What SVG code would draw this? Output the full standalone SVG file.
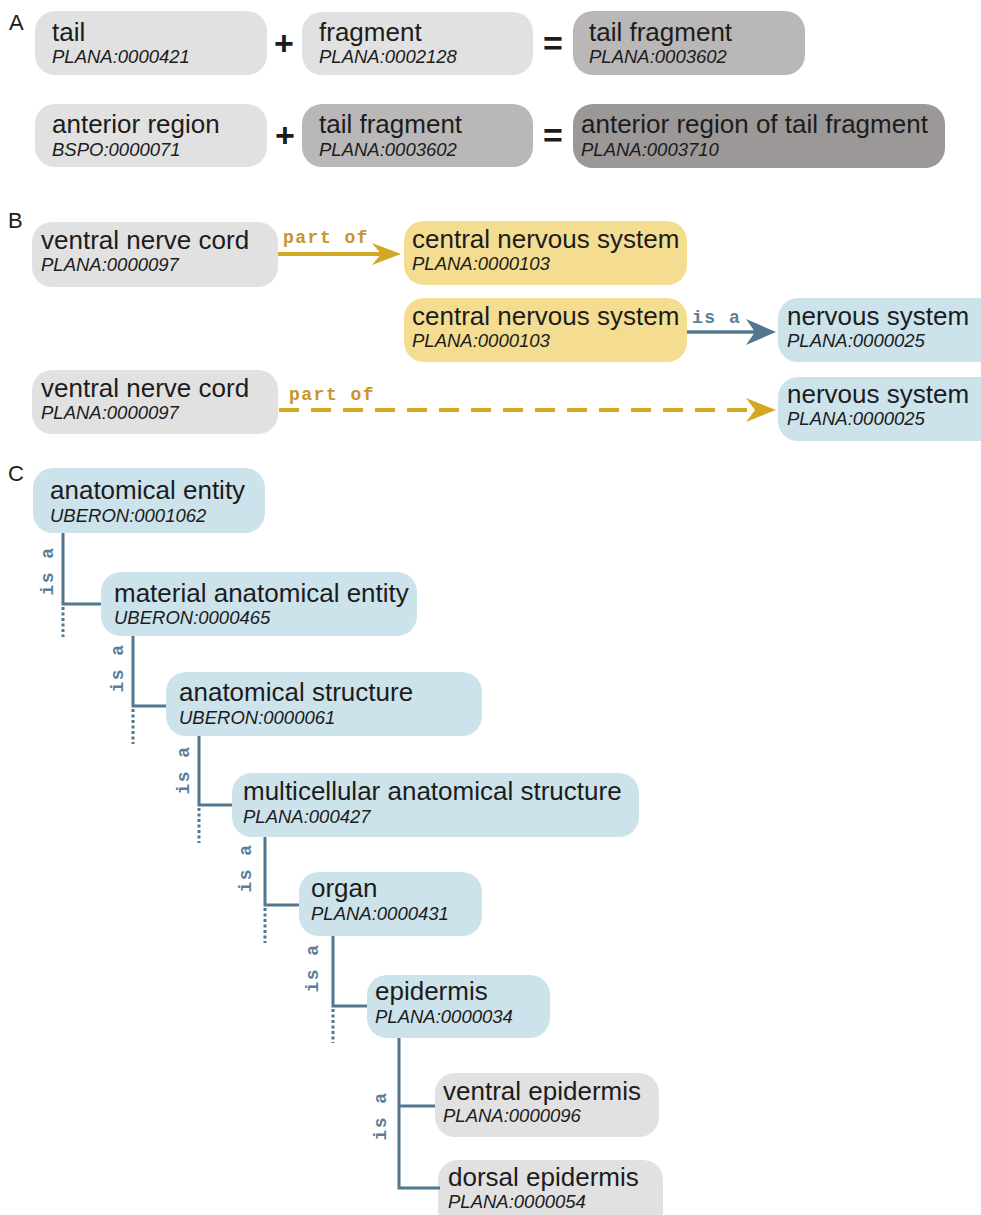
<svg xmlns="http://www.w3.org/2000/svg" width="981" height="1215" viewBox="0 0 981 1215">
<style>
.bg{fill:#ffffff}
.g1{fill:#e1e1e1}
.g2{fill:#b9b7b7}
.g3{fill:#9c9898}
.ye{fill:#f4dd91}
.bl{fill:#cde3eb}
.t{font-family:"Liberation Sans",Arial,sans-serif;font-size:26px;fill:#1c1c1c}
.id{font-family:"Liberation Sans",Arial,sans-serif;font-size:18.5px;font-style:italic;fill:#1c1c1c}
.pl{font-family:"Liberation Sans",Arial,sans-serif;font-size:22px;fill:#1c1c1c}
.op{font-family:"Liberation Sans",Arial,sans-serif;font-size:34px;fill:#1c1c1c}
.lp{font-family:"Liberation Mono","Courier New",monospace;font-size:18px;font-weight:bold;fill:#c8952c;letter-spacing:1.5px}
.li{font-family:"Liberation Mono","Courier New",monospace;font-size:18px;font-weight:bold;fill:#5b7e98;letter-spacing:1.5px}
.gold{stroke:#d3a923;stroke-width:4;fill:none}
.gdash{stroke:#d3a923;stroke-width:4;fill:none;stroke-dasharray:20 12}
.goldh{fill:#d3a923}
.blue{stroke:#52778f;stroke-width:3.5;fill:none}
.blueh{fill:#52778f}
.tree{stroke:#52778f;stroke-width:3;fill:none}
.dot{stroke:#52778f;stroke-width:3;fill:none;stroke-dasharray:3 2.5}
</style>
<rect class="bg" x="0" y="0" width="981" height="1215"/>

<text class="pl" x="9" y="30">A</text>
<text class="pl" x="8" y="228">B</text>
<text class="pl" x="8" y="481">C</text>

<text class="op" x="284" y="55" text-anchor="middle" font-weight="bold">+</text>
<text class="op" x="553" y="55" text-anchor="middle" font-weight="bold">=</text>
<text class="op" x="285" y="147" text-anchor="middle" font-weight="bold">+</text>
<text class="op" x="553" y="147" text-anchor="middle" font-weight="bold">=</text>

<g id="a-tail">
<rect class="g1" x="35" y="11" width="232" height="64" rx="20"/>
<text class="t" x="52" y="41">tail</text>
<text class="id" x="52" y="63">PLANA:0000421</text>
</g>
<g id="a-fragment">
<rect class="g1" x="302" y="12" width="231" height="63" rx="20"/>
<text class="t" x="319" y="41">fragment</text>
<text class="id" x="319" y="63">PLANA:0002128</text>
</g>
<g id="a-tail-fragment">
<rect class="g2" x="573" y="11" width="232" height="64" rx="20"/>
<text class="t" x="589" y="41">tail fragment</text>
<text class="id" x="589" y="63">PLANA:0003602</text>
</g>
<g id="a-anterior-region">
<rect class="g1" x="35" y="104" width="232" height="63" rx="20"/>
<text class="t" x="52" y="133">anterior region</text>
<text class="id" x="52" y="156">BSPO:0000071</text>
</g>
<g id="a-tail-fragment-2">
<rect class="g2" x="302" y="104" width="231" height="63" rx="20"/>
<text class="t" x="319" y="133">tail fragment</text>
<text class="id" x="319" y="156">PLANA:0003602</text>
</g>
<g id="a-anterior-region-of-tail-fragment">
<rect class="g3" x="573" y="104" width="372" height="64" rx="20"/>
<text class="t" x="581" y="133">anterior region of tail fragment</text>
<text class="id" x="581" y="156">PLANA:0003710</text>
</g>

<g id="b-vnc-1">
<rect class="g1" x="32" y="222" width="246" height="65" rx="20"/>
<text class="t" x="41" y="249">ventral nerve cord</text>
<text class="id" x="41" y="271">PLANA:0000097</text>
</g>
<g id="b-cns-1">
<rect class="ye" x="404" y="221" width="283" height="64" rx="20"/>
<text class="t" x="412" y="248">central nervous system</text>
<text class="id" x="412" y="270">PLANA:0000103</text>
</g>
<g id="b-cns-2">
<rect class="ye" x="404" y="298" width="283" height="64" rx="20"/>
<text class="t" x="412" y="325">central nervous system</text>
<text class="id" x="412" y="347">PLANA:0000103</text>
</g>
<g id="b-ns-1">
<rect class="bl" x="778" y="298" width="230" height="64" rx="20"/>
<text class="t" x="787" y="325">nervous system</text>
<text class="id" x="787" y="347">PLANA:0000025</text>
</g>
<g id="b-vnc-2">
<rect class="g1" x="32" y="370" width="246" height="64" rx="20"/>
<text class="t" x="41" y="397">ventral nerve cord</text>
<text class="id" x="41" y="419">PLANA:0000097</text>
</g>
<g id="b-ns-2">
<rect class="bl" x="778" y="377" width="230" height="64" rx="20"/>
<text class="t" x="787" y="403">nervous system</text>
<text class="id" x="787" y="425">PLANA:0000025</text>
</g>

<g id="c-anatomical-entity">
<rect class="bl" x="33" y="468" width="232" height="65" rx="20"/>
<text class="t" x="50" y="499">anatomical entity</text>
<text class="id" x="50" y="522">UBERON:0001062</text>
</g>
<g id="c-material-anatomical-entity">
<rect class="bl" x="101" y="572" width="316" height="64" rx="20"/>
<text class="t" x="114" y="602">material anatomical entity</text>
<text class="id" x="114" y="624">UBERON:0000465</text>
</g>
<g id="c-anatomical-structure">
<rect class="bl" x="166" y="672" width="316" height="64" rx="20"/>
<text class="t" x="179" y="701">anatomical structure</text>
<text class="id" x="179" y="724">UBERON:0000061</text>
</g>
<g id="c-multicellular-anatomical-structure">
<rect class="bl" x="232" y="773" width="407" height="64" rx="20"/>
<text class="t" x="243" y="800">multicellular anatomical structure</text>
<text class="id" x="243" y="823">PLANA:000427</text>
</g>
<g id="c-organ">
<rect class="bl" x="299" y="872" width="183" height="64" rx="20"/>
<text class="t" x="311" y="897">organ</text>
<text class="id" x="311" y="920">PLANA:0000431</text>
</g>
<g id="c-epidermis">
<rect class="bl" x="367" y="975" width="183" height="63" rx="20"/>
<text class="t" x="375" y="1000">epidermis</text>
<text class="id" x="375" y="1023">PLANA:0000034</text>
</g>
<g id="c-ventral-epidermis">
<rect class="g1" x="435" y="1073" width="224" height="64" rx="20"/>
<text class="t" x="443" y="1100">ventral epidermis</text>
<text class="id" x="443" y="1122">PLANA:0000096</text>
</g>
<g id="c-dorsal-epidermis">
<rect class="g1" x="438" y="1160" width="225" height="70" rx="20"/>
<text class="t" x="448" y="1186">dorsal epidermis</text>
<text class="id" x="448" y="1208">PLANA:0000054</text>
</g>

<g id="connectors">
<line class="gold" x1="278" y1="254" x2="384" y2="254"/>
<path class="goldh" d="M372,243 L401,254 L372,265 L381,254 Z"/>
<text class="lp" x="283" y="243">part of</text>

<line class="blue" x1="687" y1="332" x2="758" y2="332"/>
<path class="blueh" d="M746,319 L776,332 L746,345 L755,332 Z"/>
<text class="li" x="692" y="323">is a</text>

<line class="gdash" x1="279" y1="410" x2="752" y2="410"/>
<path class="goldh" d="M746,398 L776,410 L746,422 L755,410 Z"/>
<text class="lp" x="289" y="400">part of</text>

<path class="tree" d="M63,533 V604 H101"/>
<line class="dot" x1="63" y1="607" x2="63" y2="637"/>
<text class="li" transform="translate(53,571) rotate(-90)" text-anchor="middle">is a</text>

<path class="tree" d="M133,636 V706 H166"/>
<line class="dot" x1="133" y1="709" x2="133" y2="744"/>
<text class="li" transform="translate(123,668) rotate(-90)" text-anchor="middle">is a</text>

<path class="tree" d="M199,736 V805 H232"/>
<line class="dot" x1="199" y1="808" x2="199" y2="843"/>
<text class="li" transform="translate(189,770) rotate(-90)" text-anchor="middle">is a</text>

<path class="tree" d="M265,837 V905 H299"/>
<line class="dot" x1="265" y1="908" x2="265" y2="943"/>
<text class="li" transform="translate(251,868) rotate(-90)" text-anchor="middle">is a</text>

<path class="tree" d="M333,936 V1006 H367"/>
<line class="dot" x1="333" y1="1009" x2="333" y2="1043"/>
<text class="li" transform="translate(318,968) rotate(-90)" text-anchor="middle">is a</text>

<path class="tree" d="M399,1038 V1188 H440 M399,1106 H435"/>
<text class="li" transform="translate(386,1116) rotate(-90)" text-anchor="middle">is a</text>
</g>
</svg>
